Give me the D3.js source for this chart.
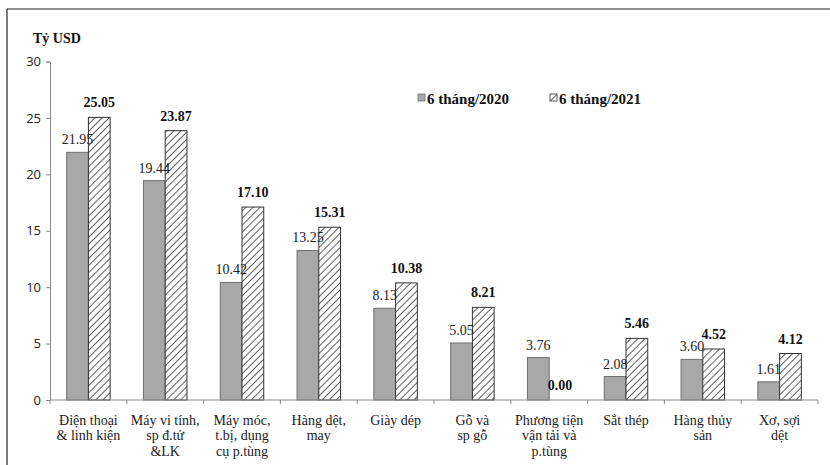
<!DOCTYPE html>
<html>
<head>
<meta charset="utf-8">
<script src="https://cdn.jsdelivr.net/npm/d3@7"></script>
<style>
  html, body { margin: 0; padding: 0; background: #fff; }
  svg { display: block; }
  .serif { font-family: "Times New Roman", "Liberation Serif", "DejaVu Serif", serif; }
  .sans { font-family: "Open Sans", "Liberation Sans", sans-serif; }
</style>
</head>
<body>
<svg id="chart" width="830" height="465"></svg>
<script>
// Export groups (each label split into its display lines)
const categories = [
  ["Điện thoại", "& linh kiện"],
  ["Máy vi tính,", "sp đ.tử", "&LK"],
  ["Máy móc,", "t.bị, dụng", "cụ p.tùng"],
  ["Hàng dệt,", "may"],
  ["Giày dép"],
  ["Gỗ và", "sp gỗ"],
  ["Phương tiện", "vận tải và", "p.tùng"],
  ["Sắt thép"],
  ["Hàng thủy", "sản"],
  ["Xơ, sợi", "dệt"]
];
const seriesNames = ["6 tháng/2020", "6 tháng/2021"];
const values2020 = [21.95, 19.44, 10.42, 13.25, 8.13, 5.05, 3.76, 2.08, 3.60, 1.61];
const values2021 = [25.05, 23.87, 17.10, 15.31, 10.38, 8.21, 0.00, 5.46, 4.52, 4.12];
const yTicks = [0, 5, 10, 15, 20, 25, 30];
const unitLabel = "Tỷ USD";

const svg = d3.select("#chart");

// Hatch pattern for the 2021 series
const defs = svg.append("defs");
const pat = defs.append("pattern")
  .attr("id", "hatch")
  .attr("patternUnits", "userSpaceOnUse")
  .attr("width", 5).attr("height", 5)
  .attr("patternTransform", "rotate(45)");
pat.append("rect").attr("width", 5).attr("height", 5).attr("fill", "#fff");
pat.append("line").attr("x1", 0).attr("y1", 0).attr("x2", 0).attr("y2", 5)
  .attr("stroke", "#444").attr("stroke-width", 1.7);

// Outer frame
svg.append("line").attr("x1", 7).attr("x2", 830).attr("y1", 9).attr("y2", 9)
  .attr("stroke", "#6a6a6a").attr("stroke-width", 1.6);
svg.append("line").attr("x1", 7).attr("x2", 7).attr("y1", 9).attr("y2", 465)
  .attr("stroke", "#444").attr("stroke-width", 1.4);

const plotLeft = 50, plotRight = 818, plotTop = 61.5, plotBottom = 400;

const x = d3.scaleBand().domain(d3.range(categories.length)).range([plotLeft, plotRight]).padding(0);
const y = d3.scaleLinear().domain([0, 30]).range([plotBottom, plotTop]);
const barW = x.bandwidth() * 0.283;

// Y axis
const yAxis = svg.append("g").attr("transform", `translate(${plotLeft},0)`)
  .call(d3.axisLeft(y).tickValues(yTicks).tickSize(4).tickPadding(5));
yAxis.attr("font-family", null).attr("font-size", null);
yAxis.select(".domain").attr("stroke", "#8a8a8a");
yAxis.selectAll(".tick line").attr("stroke", "#8a8a8a");
yAxis.selectAll(".tick text").attr("class", "sans").style("font-size", "13px")
  .attr("fill", "#222");

// Bars
const g = svg.append("g");
categories.forEach((c, i) => {
  const cx = x(i) + x.bandwidth() / 2;
  g.append("rect")
    .attr("x", cx - barW).attr("y", y(values2020[i]))
    .attr("width", barW).attr("height", y(0) - y(values2020[i]))
    .attr("fill", "#a8a8a8").attr("stroke", "#6e6e6e").attr("stroke-width", 1);
  g.append("rect")
    .attr("x", cx).attr("y", y(values2021[i]))
    .attr("width", barW).attr("height", y(0) - y(values2021[i]))
    .attr("fill", "url(#hatch)").attr("stroke", "#333").attr("stroke-width", 1);

  g.append("text").attr("class", "serif")
    .attr("x", cx - barW / 2).attr("y", y(values2020[i]) - 8)
    .attr("text-anchor", "middle")
    .style("font-size", "14px").attr("fill", "#222")
    .text(values2020[i].toFixed(2));
  g.append("text").attr("class", "serif")
    .attr("x", cx + barW / 2).attr("y", y(values2021[i]) - 10)
    .attr("text-anchor", "middle")
    .style("font-size", "14px").style("font-weight", "bold")
    .attr("fill", "#111")
    .text(values2021[i].toFixed(2));
});

// X axis with tick marks on category boundaries
const xb = svg.append("g").attr("transform", `translate(0,${plotBottom})`);
xb.append("line").attr("x1", plotLeft).attr("x2", plotRight).attr("stroke", "#8a8a8a");
const bounds = d3.range(categories.length + 1).map(i => plotLeft + i * x.bandwidth());
xb.selectAll("line.tk").data(bounds).join("line")
  .attr("class", "tk").attr("x1", d => d).attr("x2", d => d)
  .attr("y1", 0).attr("y2", 4).attr("stroke", "#8a8a8a");

// Category labels
categories.forEach((lines, i) => {
  const t = svg.append("text").attr("class", "serif")
    .attr("text-anchor", "middle")
    .style("font-size", "14px").attr("fill", "#222");
  lines.forEach((ln, k) => {
    t.append("tspan").attr("x", x(i) + x.bandwidth() / 2)
      .attr("y", 424.5 + k * 15.5).text(ln);
  });
});

// Unit label
svg.append("text").attr("class", "serif").attr("x", 33).attr("y", 43)
  .style("font-size", "14px").style("font-weight", "bold")
  .attr("fill", "#111").text(unitLabel);

// Legend
const legend = [
  { name: seriesNames[0], x: 418, fill: "#a8a8a8", stroke: "#6e6e6e" },
  { name: seriesNames[1], x: 550, fill: "url(#hatch)", stroke: "#333" }
];
legend.forEach(d => {
  svg.append("rect").attr("x", d.x).attr("y", 94).attr("width", 7).attr("height", 7)
    .attr("fill", d.fill).attr("stroke", d.stroke).attr("stroke-width", 0.8);
  svg.append("text").attr("class", "serif").attr("x", d.x + 9).attr("y", 104)
    .style("font-size", "15px").style("font-weight", "bold")
    .attr("fill", "#111").text(d.name);
});
</script>
</body>
</html>
